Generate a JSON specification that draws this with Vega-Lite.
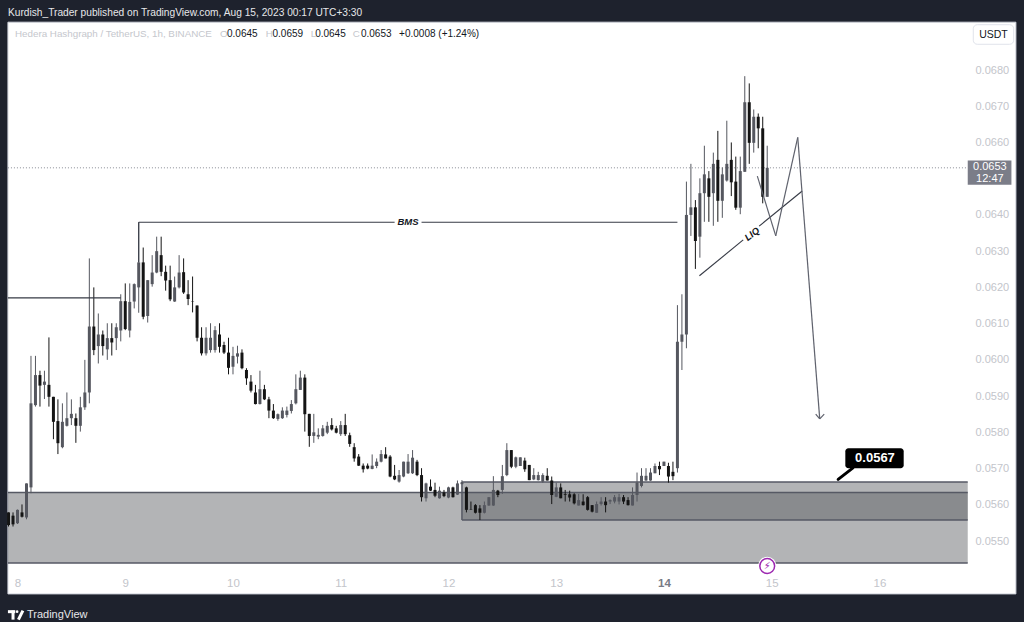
{
  "$schema": "https://vega.github.io/schema/vega-lite/v6.json",
  "width": 1024,
  "height": 622,
  "padding": 0,
  "autosize": "none",
  "background": "#1e222d",
  "view": {"stroke": null},
  "config": {"font": "Liberation Sans"},
  "encoding": {
    "x": {
      "field": "t",
      "type": "temporal",
      "scale": {"type": "utc", "nice": false, "padding": 0, "domain": [{"year": 2023, "month": 8, "date": 7, "hours": 20, "minutes": 6, "utc": true}, {"year": 2023, "month": 8, "date": 17, "hours": 8, "minutes": 12, "utc": true}]},
      "axis": {
        "orient": "bottom", "offset": -50, "zindex": 1, "title": null, "grid": false, "domain": false, "ticks": false,
        "format": "%-d", "labelPadding": 5, "labelFontSize": 11.5,
        "labelColor": {"condition": {"test": "utcdate(datum.value) == 14", "value": "#787b86"}, "value": "#c3c5cb"},
        "labelFontWeight": {"condition": {"test": "utcdate(datum.value) == 14", "value": "bold"}, "value": "normal"},
        "values": [
          {"year": 2023, "month": 8, "date": 8, "utc": true},
          {"year": 2023, "month": 8, "date": 9, "utc": true},
          {"year": 2023, "month": 8, "date": 10, "utc": true},
          {"year": 2023, "month": 8, "date": 11, "utc": true},
          {"year": 2023, "month": 8, "date": 12, "utc": true},
          {"year": 2023, "month": 8, "date": 13, "utc": true},
          {"year": 2023, "month": 8, "date": 14, "utc": true},
          {"year": 2023, "month": 8, "date": 15, "utc": true},
          {"year": 2023, "month": 8, "date": 16, "utc": true}
        ]
      }
    },
    "y": {
      "field": "p",
      "type": "quantitative",
      "scale": {"domain": [0.052765, 0.069932], "nice": false, "zero": false},
      "axis": {
        "orient": "right", "offset": -56, "zindex": 1, "title": null, "grid": false, "domain": false, "ticks": false,
        "format": ".4f", "labelPadding": 7, "labelFontSize": 11, "labelColor": "#c3c5cb", "labelAlign": "left",
        "values": [0.055, 0.056, 0.057, 0.058, 0.059, 0.06, 0.061, 0.062, 0.063, 0.064, 0.066, 0.067, 0.068]
      }
    }
  },
  "layer": [
    {
      "data": {"values": [{"t": "2023-08-07T21:52Z", "t2": "2023-08-17T06:24Z", "p": 0.06932, "p2": 0.05354}]},
      "mark": {"type": "rect", "fill": "#ffffff", "stroke": "#d1d4dc", "strokeWidth": 1},
      "encoding": {"x2": {"field": "t2"}, "y2": {"field": "p2"}}
    },
    {
      "data": {"values": [
        {"t": "2023-08-07T21:52Z", "t2": "2023-08-16T19:40Z", "p": 0.05634, "p2": 0.05439},
        {"t": "2023-08-12T03:00Z", "t2": "2023-08-16T19:40Z", "p": 0.05663, "p2": 0.05558}
      ]},
      "mark": {"type": "rect", "fill": "#56585e", "fillOpacity": 0.45},
      "encoding": {"x2": {"field": "t2"}, "y2": {"field": "p2"}}
    },
    {
      "data": {"values": [
        {"t": "2023-08-07T21:52Z", "t2": "2023-08-16T19:40Z", "p": 0.05634, "p2": 0.05634},
        {"t": "2023-08-07T21:52Z", "t2": "2023-08-16T19:40Z", "p": 0.05439, "p2": 0.05439},
        {"t": "2023-08-12T03:00Z", "t2": "2023-08-16T19:40Z", "p": 0.05663, "p2": 0.05663},
        {"t": "2023-08-12T03:00Z", "t2": "2023-08-16T19:40Z", "p": 0.05558, "p2": 0.05558},
        {"t": "2023-08-12T03:00Z", "t2": "2023-08-12T03:00Z", "p": 0.05663, "p2": 0.05558}
      ]},
      "mark": {"type": "rule", "color": "#565964", "strokeWidth": 1.5},
      "encoding": {"x2": {"field": "t2"}, "y2": {"field": "p2"}}
    },
    {
      "data": {"values": [{"t": "2023-08-07T21:52Z", "t2": "2023-08-16T19:40Z", "p": 0.0653, "p2": 0.0653}]},
      "mark": {"type": "rule", "color": "#8a8d96", "strokeWidth": 1, "strokeDash": [1, 2]},
      "encoding": {"x2": {"field": "t2"}, "y2": {"field": "p2"}}
    },
    {
      "data": {"name": "candles"},
      "mark": {"type": "rule", "strokeWidth": 1},
      "encoding": {
        "y": {
          "field": "low", "type": "quantitative", "scale": {"domain": [0.052765, 0.069932], "nice": false, "zero": false},
          "axis": {
            "orient": "right", "offset": -56, "zindex": 1, "title": null, "grid": false, "domain": false, "ticks": false,
            "format": ".4f", "labelPadding": 7, "labelFontSize": 11, "labelColor": "#c3c5cb", "labelAlign": "left",
            "values": [0.055, 0.056, 0.057, 0.058, 0.059, 0.06, 0.061, 0.062, 0.063, 0.064, 0.066, 0.067, 0.068]
          }
        },
        "y2": {"field": "high"},
        "color": {"condition": {"test": "datum.close >= datum.open", "value": "#55575f"}, "value": "#141414"}
      }
    },
    {
      "data": {"name": "candles"},
      "mark": {"type": "bar", "size": 3, "orient": "vertical"},
      "encoding": {
        "y": {
          "field": "open", "type": "quantitative", "scale": {"domain": [0.052765, 0.069932], "nice": false, "zero": false},
          "axis": {
            "orient": "right", "offset": -56, "zindex": 1, "title": null, "grid": false, "domain": false, "ticks": false,
            "format": ".4f", "labelPadding": 7, "labelFontSize": 11, "labelColor": "#c3c5cb", "labelAlign": "left",
            "values": [0.055, 0.056, 0.057, 0.058, 0.059, 0.06, 0.061, 0.062, 0.063, 0.064, 0.066, 0.067, 0.068]
          }
        },
        "y2": {"field": "close"},
        "color": {"condition": {"test": "datum.close >= datum.open", "value": "#55575f"}, "value": "#141414"}
      }
    },
    {
      "data": {"values": [
        {"t": "2023-08-07T21:52Z", "t2": "2023-08-08T23:00Z", "p": 0.06171, "p2": 0.06171},
        {"t": "2023-08-09T03:00Z", "t2": "2023-08-09T03:00Z", "p": 0.0638, "p2": 0.0627},
        {"t": "2023-08-09T03:00Z", "t2": "2023-08-11T12:00Z", "p": 0.0638, "p2": 0.0638},
        {"t": "2023-08-11T18:00Z", "t2": "2023-08-14T03:00Z", "p": 0.0638, "p2": 0.0638},
        {"t": "2023-08-14T07:54Z", "t2": "2023-08-14T17:39Z", "p": 0.06232, "p2": 0.06331},
        {"t": "2023-08-14T21:12Z", "t2": "2023-08-15T06:48Z", "p": 0.06369, "p2": 0.06466}
      ]},
      "mark": {"type": "rule", "color": "#363a45", "strokeWidth": 1.1},
      "encoding": {"x2": {"field": "t2"}, "y2": {"field": "p2"}}
    },
    {
      "data": {"values": [
        {"t": "2023-08-14T20:48Z", "t2": "2023-08-15T00:54Z", "p": 0.06507, "p2": 0.06342},
        {"t": "2023-08-15T00:54Z", "t2": "2023-08-15T05:48Z", "p": 0.06342, "p2": 0.06614},
        {"t": "2023-08-15T05:48Z", "t2": "2023-08-15T10:42Z", "p": 0.06614, "p2": 0.05837},
        {"t": "2023-08-15T09:48Z", "t2": "2023-08-15T10:42Z", "p": 0.0585, "p2": 0.05837},
        {"t": "2023-08-15T11:42Z", "t2": "2023-08-15T10:42Z", "p": 0.0585, "p2": 0.05837}
      ]},
      "mark": {"type": "rule", "color": "#5f626d", "strokeWidth": 1.2},
      "encoding": {"x2": {"field": "t2"}, "y2": {"field": "p2"}}
    },
    {
      "data": {"values": [{"t": "2023-08-11T15:00Z", "p": 0.0638, "label": "BMS"}]},
      "mark": {"type": "text", "fontSize": 9.5, "fontStyle": "italic", "fontWeight": "bold", "color": "#131722", "align": "center", "baseline": "middle"},
      "encoding": {"text": {"field": "label"}}
    },
    {
      "data": {"values": [{"t": "2023-08-14T19:39Z", "p": 0.06347, "label": "LIQ"}]},
      "mark": {"type": "text", "fontSize": 9.5, "fontStyle": "italic", "fontWeight": "bold", "color": "#131722", "align": "center", "baseline": "middle", "angle": 322},
      "encoding": {"text": {"field": "label"}}
    },
    {
      "data": {"values": [{"t": "2023-08-15T14:48Z", "t2": "2023-08-15T18:06Z", "p": 0.0567, "p2": 0.05702}]},
      "mark": {"type": "rule", "color": "#000000", "strokeWidth": 3, "strokeCap": "round"},
      "encoding": {"x2": {"field": "t2"}, "y2": {"field": "p2"}}
    },
    {
      "data": {"values": [{"t": "2023-08-15T16:24Z", "t2": "2023-08-16T05:24Z", "p": 0.05756, "p2": 0.05701}]},
      "mark": {"type": "rect", "fill": "#000000", "cornerRadius": 3},
      "encoding": {"x2": {"field": "t2"}, "y2": {"field": "p2"}}
    },
    {
      "data": {"values": [{"t": "2023-08-15T23:00Z", "p": 0.05728, "label": "0.0567"}]},
      "mark": {"type": "text", "fontSize": 13, "fontWeight": "bold", "color": "#ffffff", "align": "center", "baseline": "middle"},
      "encoding": {"text": {"field": "label"}}
    },
    {
      "data": {"values": [{"t": "2023-08-14T23:00Z", "p": 0.05431}]},
      "mark": {"type": "point", "shape": "circle", "filled": true, "size": 340, "color": "#ffffff", "opacity": 1},
      "encoding": {}
    },
    {
      "data": {"values": [{"t": "2023-08-14T23:00Z", "p": 0.05431}]},
      "mark": {"type": "point", "shape": "circle", "filled": false, "size": 220, "stroke": "#9c27b0", "strokeWidth": 1.5, "opacity": 1},
      "encoding": {}
    },
    {
      "data": {"values": [{"t": "2023-08-14T23:00Z", "p": 0.05431, "label": "⚡"}]},
      "mark": {"type": "text", "font": "DejaVu Sans", "fontSize": 10, "color": "#9c27b0", "align": "center", "baseline": "middle"},
      "encoding": {"text": {"field": "label"}}
    },
    {
      "data": {"values": [{"t": "2023-08-16T19:40Z", "t2": "2023-08-17T05:24Z", "p": 0.0655, "p2": 0.06483}]},
      "mark": {"type": "rect", "fill": "#7b7d88"},
      "encoding": {"x2": {"field": "t2"}, "y2": {"field": "p2"}}
    },
    {
      "data": {"values": [
        {"t": "2023-08-17T00:36Z", "p": 0.06531, "label": "0.0653"},
        {"t": "2023-08-17T00:36Z", "p": 0.06499, "label": "12:47"}
      ]},
      "mark": {"type": "text", "fontSize": 11, "color": "#ffffff", "align": "center", "baseline": "middle"},
      "encoding": {"text": {"field": "label"}}
    },
    {
      "data": {"values": [{"t": "2023-08-16T20:54Z", "t2": "2023-08-17T05:54Z", "p": 0.06925, "p2": 0.06871}]},
      "mark": {"type": "rect", "fill": "#ffffff", "stroke": "#e0e3eb", "strokeWidth": 1, "cornerRadius": 4},
      "encoding": {"x2": {"field": "t2"}, "y2": {"field": "p2"}}
    },
    {
      "data": {"values": [{"t": "2023-08-17T01:24Z", "p": 0.06897, "label": "USDT"}]},
      "mark": {"type": "text", "fontSize": 10.5, "color": "#131722", "align": "center", "baseline": "middle"},
      "encoding": {"text": {"field": "label"}}
    },
    {
      "data": {"values": [{"t": "2023-08-07T21:52Z", "p": 0.06956, "label": "Kurdish_Trader published on TradingView.com, Aug 15, 2023 00:17 UTC+3:30"}]},
      "mark": {"type": "text", "fontSize": 10.2, "color": "#e6e7ea", "align": "left", "baseline": "middle"},
      "encoding": {"text": {"field": "label"}}
    },
    {
      "data": {"values": [
        {"t": "2023-08-07T23:26Z", "p": 0.06899, "label": "Hedera Hashgraph / TetherUS, 1h, BINANCE"},
        {"t": "2023-08-09T21:06Z", "p": 0.06899, "label": "O"},
        {"t": "2023-08-10T07:18Z", "p": 0.06899, "label": "H"},
        {"t": "2023-08-10T17:18Z", "p": 0.06899, "label": "L"},
        {"t": "2023-08-11T02:42Z", "p": 0.06899, "label": "C"}
      ]},
      "mark": {"type": "text", "fontSize": 9.8, "color": "#c5c7cd", "align": "left", "baseline": "middle"},
      "encoding": {"text": {"field": "label"}}
    },
    {
      "data": {"values": [
        {"t": "2023-08-09T22:40Z", "p": 0.06899, "label": "0.0645"},
        {"t": "2023-08-10T08:48Z", "p": 0.06899, "label": "0.0659"},
        {"t": "2023-08-10T18:18Z", "p": 0.06899, "label": "0.0645"},
        {"t": "2023-08-11T04:30Z", "p": 0.06899, "label": "0.0653"},
        {"t": "2023-08-11T13:00Z", "p": 0.06899, "label": "+0.0008 (+1.24%)"}
      ]},
      "mark": {"type": "text", "fontSize": 10, "color": "#131722", "align": "left", "baseline": "middle"},
      "encoding": {"text": {"field": "label"}}
    },
    {
      "data": {"values": [{"t": "2023-08-08T02:06Z", "p": 0.05296, "label": "TradingView"}]},
      "mark": {"type": "text", "fontSize": 11, "color": "#e6e7ea", "align": "left", "baseline": "middle"},
      "encoding": {"text": {"field": "label"}}
    },
    {
      "data": {"values": [
        {"t": "2023-08-07T21:52Z", "t2": "2023-08-07T23:30Z", "p": 0.05305, "p2": 0.05305},
        {"t": "2023-08-07T23:00Z", "t2": "2023-08-07T23:00Z", "p": 0.05308, "p2": 0.05283},
        {"t": "2023-08-08T01:12Z", "t2": "2023-08-08T00:12Z", "p": 0.05308, "p2": 0.05283}
      ]},
      "mark": {"type": "rule", "color": "#ffffff", "strokeWidth": 3},
      "encoding": {"x2": {"field": "t2"}, "y2": {"field": "p2"}}
    },
    {
      "data": {"values": [{"t": "2023-08-07T23:55Z", "p": 0.05305}]},
      "mark": {"type": "point", "shape": "circle", "filled": true, "size": 7, "color": "#ffffff", "opacity": 1},
      "encoding": {}
    }
  ],
  "datasets": {
    "candles": [
      {"t":"2023-08-07T22:00Z","open":0.05579,"high":0.05579,"low":0.0554,"close":0.05544},
      {"t":"2023-08-07T23:00Z","open":0.0557,"high":0.05579,"low":0.0554,"close":0.05546},
      {"t":"2023-08-08T00:00Z","open":0.05549,"high":0.05587,"low":0.05547,"close":0.05586},
      {"t":"2023-08-08T01:00Z","open":0.05579,"high":0.05601,"low":0.05565,"close":0.05567},
      {"t":"2023-08-08T02:00Z","open":0.05565,"high":0.05659,"low":0.0556,"close":0.05659},
      {"t":"2023-08-08T03:00Z","open":0.05648,"high":0.06011,"low":0.05632,"close":0.0588},
      {"t":"2023-08-08T04:00Z","open":0.05875,"high":0.06011,"low":0.05871,"close":0.05958},
      {"t":"2023-08-08T05:00Z","open":0.05958,"high":0.0597,"low":0.05871,"close":0.05929},
      {"t":"2023-08-08T06:00Z","open":0.05931,"high":0.0597,"low":0.05892,"close":0.0594},
      {"t":"2023-08-08T07:00Z","open":0.05931,"high":0.06062,"low":0.05871,"close":0.05898},
      {"t":"2023-08-08T08:00Z","open":0.05898,"high":0.05898,"low":0.05781,"close":0.05829},
      {"t":"2023-08-08T09:00Z","open":0.05831,"high":0.05891,"low":0.0574,"close":0.0577},
      {"t":"2023-08-08T10:00Z","open":0.05759,"high":0.0588,"low":0.05756,"close":0.05829},
      {"t":"2023-08-08T11:00Z","open":0.05818,"high":0.0591,"low":0.05816,"close":0.05839},
      {"t":"2023-08-08T12:00Z","open":0.05839,"high":0.05891,"low":0.0582,"close":0.05851},
      {"t":"2023-08-08T13:00Z","open":0.05839,"high":0.05852,"low":0.05771,"close":0.05818},
      {"t":"2023-08-08T14:00Z","open":0.05818,"high":0.05898,"low":0.05802,"close":0.05869},
      {"t":"2023-08-08T15:00Z","open":0.05869,"high":0.06,"low":0.05862,"close":0.0591},
      {"t":"2023-08-08T16:00Z","open":0.0591,"high":0.0628,"low":0.0588,"close":0.06092},
      {"t":"2023-08-08T17:00Z","open":0.06092,"high":0.062,"low":0.06013,"close":0.06027},
      {"t":"2023-08-08T18:00Z","open":0.06038,"high":0.06128,"low":0.0599,"close":0.0607},
      {"t":"2023-08-08T19:00Z","open":0.0607,"high":0.06081,"low":0.06012,"close":0.06038},
      {"t":"2023-08-08T20:00Z","open":0.06029,"high":0.06101,"low":0.06,"close":0.0606},
      {"t":"2023-08-08T21:00Z","open":0.0606,"high":0.06101,"low":0.06012,"close":0.06048},
      {"t":"2023-08-08T22:00Z","open":0.0606,"high":0.06101,"low":0.06027,"close":0.0609},
      {"t":"2023-08-08T23:00Z","open":0.06081,"high":0.06181,"low":0.06051,"close":0.06162},
      {"t":"2023-08-09T00:00Z","open":0.06162,"high":0.06211,"low":0.06082,"close":0.06085},
      {"t":"2023-08-09T01:00Z","open":0.06081,"high":0.06211,"low":0.06062,"close":0.0616},
      {"t":"2023-08-09T02:00Z","open":0.06161,"high":0.06211,"low":0.06142,"close":0.06209},
      {"t":"2023-08-09T03:00Z","open":0.062,"high":0.0638,"low":0.0613,"close":0.06269},
      {"t":"2023-08-09T04:00Z","open":0.06269,"high":0.0631,"low":0.06112,"close":0.06119},
      {"t":"2023-08-09T05:00Z","open":0.06121,"high":0.0622,"low":0.06103,"close":0.0622},
      {"t":"2023-08-09T06:00Z","open":0.06209,"high":0.06289,"low":0.06202,"close":0.06241},
      {"t":"2023-08-09T07:00Z","open":0.06241,"high":0.0634,"low":0.06239,"close":0.063},
      {"t":"2023-08-09T08:00Z","open":0.06289,"high":0.0634,"low":0.06231,"close":0.06243},
      {"t":"2023-08-09T09:00Z","open":0.06243,"high":0.0626,"low":0.06191,"close":0.06219},
      {"t":"2023-08-09T10:00Z","open":0.0622,"high":0.0626,"low":0.06162,"close":0.06167},
      {"t":"2023-08-09T11:00Z","open":0.06161,"high":0.0623,"low":0.0616,"close":0.062},
      {"t":"2023-08-09T12:00Z","open":0.062,"high":0.06289,"low":0.06197,"close":0.06241},
      {"t":"2023-08-09T13:00Z","open":0.06242,"high":0.0628,"low":0.06182,"close":0.06186},
      {"t":"2023-08-09T14:00Z","open":0.06181,"high":0.0622,"low":0.06151,"close":0.06168},
      {"t":"2023-08-09T15:00Z","open":0.06162,"high":0.0623,"low":0.06131,"close":0.06161},
      {"t":"2023-08-09T16:00Z","open":0.0615,"high":0.0615,"low":0.06051,"close":0.06061},
      {"t":"2023-08-09T17:00Z","open":0.06061,"high":0.0609,"low":0.06012,"close":0.06018},
      {"t":"2023-08-09T18:00Z","open":0.06018,"high":0.0609,"low":0.06012,"close":0.06061},
      {"t":"2023-08-09T19:00Z","open":0.06027,"high":0.06101,"low":0.0602,"close":0.06061},
      {"t":"2023-08-09T20:00Z","open":0.06027,"high":0.06093,"low":0.0602,"close":0.06082},
      {"t":"2023-08-09T21:00Z","open":0.0607,"high":0.06101,"low":0.0602,"close":0.06036},
      {"t":"2023-08-09T22:00Z","open":0.06041,"high":0.0605,"low":0.06016,"close":0.0602},
      {"t":"2023-08-09T23:00Z","open":0.0602,"high":0.06061,"low":0.0596,"close":0.05978},
      {"t":"2023-08-10T00:00Z","open":0.05981,"high":0.06036,"low":0.0596,"close":0.06011},
      {"t":"2023-08-10T01:00Z","open":0.06009,"high":0.06039,"low":0.0599,"close":0.06018},
      {"t":"2023-08-10T02:00Z","open":0.0602,"high":0.06029,"low":0.05974,"close":0.05977},
      {"t":"2023-08-10T03:00Z","open":0.05972,"high":0.05977,"low":0.05931,"close":0.05949},
      {"t":"2023-08-10T04:00Z","open":0.0594,"high":0.05958,"low":0.0591,"close":0.05915},
      {"t":"2023-08-10T05:00Z","open":0.0591,"high":0.05931,"low":0.05877,"close":0.05878},
      {"t":"2023-08-10T06:00Z","open":0.05878,"high":0.0597,"low":0.05877,"close":0.05919},
      {"t":"2023-08-10T07:00Z","open":0.05919,"high":0.05931,"low":0.05889,"close":0.05891},
      {"t":"2023-08-10T08:00Z","open":0.05891,"high":0.05898,"low":0.05839,"close":0.0586},
      {"t":"2023-08-10T09:00Z","open":0.0586,"high":0.05878,"low":0.05837,"close":0.05839},
      {"t":"2023-08-10T10:00Z","open":0.05837,"high":0.05852,"low":0.05832,"close":0.0585},
      {"t":"2023-08-10T11:00Z","open":0.05839,"high":0.05869,"low":0.05837,"close":0.0586},
      {"t":"2023-08-10T12:00Z","open":0.05848,"high":0.05871,"low":0.05841,"close":0.0586},
      {"t":"2023-08-10T13:00Z","open":0.05859,"high":0.05889,"low":0.05852,"close":0.05878},
      {"t":"2023-08-10T14:00Z","open":0.0588,"high":0.0596,"low":0.05877,"close":0.05919},
      {"t":"2023-08-10T15:00Z","open":0.05917,"high":0.0597,"low":0.05917,"close":0.05951},
      {"t":"2023-08-10T16:00Z","open":0.05951,"high":0.0596,"low":0.05802,"close":0.0585},
      {"t":"2023-08-10T17:00Z","open":0.05851,"high":0.05851,"low":0.0576,"close":0.0579},
      {"t":"2023-08-10T18:00Z","open":0.0579,"high":0.05851,"low":0.05771,"close":0.058},
      {"t":"2023-08-10T19:00Z","open":0.05788,"high":0.05811,"low":0.05781,"close":0.05793},
      {"t":"2023-08-10T20:00Z","open":0.0579,"high":0.0582,"low":0.05788,"close":0.05811},
      {"t":"2023-08-10T21:00Z","open":0.05799,"high":0.05829,"low":0.05795,"close":0.05818},
      {"t":"2023-08-10T22:00Z","open":0.0582,"high":0.05839,"low":0.05805,"close":0.05808},
      {"t":"2023-08-10T23:00Z","open":0.05811,"high":0.05818,"low":0.05797,"close":0.05799},
      {"t":"2023-08-11T00:00Z","open":0.05795,"high":0.05831,"low":0.0579,"close":0.0582},
      {"t":"2023-08-11T01:00Z","open":0.0582,"high":0.05851,"low":0.0579,"close":0.05795},
      {"t":"2023-08-11T02:00Z","open":0.05792,"high":0.05799,"low":0.0576,"close":0.05768},
      {"t":"2023-08-11T03:00Z","open":0.05759,"high":0.0577,"low":0.05719,"close":0.05728},
      {"t":"2023-08-11T04:00Z","open":0.05733,"high":0.0574,"low":0.05707,"close":0.05708},
      {"t":"2023-08-11T05:00Z","open":0.05708,"high":0.05714,"low":0.05689,"close":0.05698},
      {"t":"2023-08-11T06:00Z","open":0.05708,"high":0.05714,"low":0.05698,"close":0.057},
      {"t":"2023-08-11T07:00Z","open":0.05699,"high":0.05739,"low":0.05698,"close":0.05708},
      {"t":"2023-08-11T08:00Z","open":0.05707,"high":0.05728,"low":0.05701,"close":0.05719},
      {"t":"2023-08-11T09:00Z","open":0.05719,"high":0.05751,"low":0.05717,"close":0.0574},
      {"t":"2023-08-11T10:00Z","open":0.05739,"high":0.05759,"low":0.05728,"close":0.05728},
      {"t":"2023-08-11T11:00Z","open":0.05733,"high":0.05737,"low":0.05676,"close":0.05678},
      {"t":"2023-08-11T12:00Z","open":0.0568,"high":0.0571,"low":0.05668,"close":0.0567},
      {"t":"2023-08-11T13:00Z","open":0.05664,"high":0.05696,"low":0.05661,"close":0.05682},
      {"t":"2023-08-11T14:00Z","open":0.05678,"high":0.05719,"low":0.05676,"close":0.05719},
      {"t":"2023-08-11T15:00Z","open":0.05687,"high":0.0574,"low":0.05685,"close":0.05719},
      {"t":"2023-08-11T16:00Z","open":0.05687,"high":0.05751,"low":0.05685,"close":0.0573},
      {"t":"2023-08-11T17:00Z","open":0.05719,"high":0.05724,"low":0.05679,"close":0.05682},
      {"t":"2023-08-11T18:00Z","open":0.05682,"high":0.05701,"low":0.05609,"close":0.05621},
      {"t":"2023-08-11T19:00Z","open":0.05618,"high":0.05661,"low":0.05609,"close":0.05659},
      {"t":"2023-08-11T20:00Z","open":0.0565,"high":0.0567,"low":0.05638,"close":0.05639},
      {"t":"2023-08-11T21:00Z","open":0.05641,"high":0.05661,"low":0.05621,"close":0.05625},
      {"t":"2023-08-11T22:00Z","open":0.05618,"high":0.0565,"low":0.05617,"close":0.05639},
      {"t":"2023-08-11T23:00Z","open":0.05634,"high":0.05641,"low":0.05621,"close":0.05624},
      {"t":"2023-08-12T00:00Z","open":0.0562,"high":0.0565,"low":0.05618,"close":0.05648},
      {"t":"2023-08-12T01:00Z","open":0.05648,"high":0.0565,"low":0.0562,"close":0.05621},
      {"t":"2023-08-12T02:00Z","open":0.05628,"high":0.05667,"low":0.05627,"close":0.05659},
      {"t":"2023-08-12T03:00Z","open":0.05657,"high":0.05668,"low":0.05657,"close":0.05662},
      {"t":"2023-08-12T04:00Z","open":0.05648,"high":0.0565,"low":0.05579,"close":0.05586},
      {"t":"2023-08-12T05:00Z","open":0.05588,"high":0.05609,"low":0.05586,"close":0.05587},
      {"t":"2023-08-12T06:00Z","open":0.05599,"high":0.05602,"low":0.05576,"close":0.05578},
      {"t":"2023-08-12T07:00Z","open":0.0559,"high":0.05599,"low":0.05558,"close":0.05578},
      {"t":"2023-08-12T08:00Z","open":0.05578,"high":0.05609,"low":0.05576,"close":0.05599},
      {"t":"2023-08-12T09:00Z","open":0.05598,"high":0.05621,"low":0.05597,"close":0.05621},
      {"t":"2023-08-12T10:00Z","open":0.05598,"high":0.05679,"low":0.05597,"close":0.05641},
      {"t":"2023-08-12T11:00Z","open":0.05639,"high":0.05641,"low":0.05621,"close":0.05627},
      {"t":"2023-08-12T12:00Z","open":0.05641,"high":0.0571,"low":0.0563,"close":0.05679},
      {"t":"2023-08-12T13:00Z","open":0.05682,"high":0.0577,"low":0.05679,"close":0.05751},
      {"t":"2023-08-12T14:00Z","open":0.05751,"high":0.05751,"low":0.05701,"close":0.05705},
      {"t":"2023-08-12T15:00Z","open":0.05705,"high":0.05733,"low":0.05701,"close":0.05731},
      {"t":"2023-08-12T16:00Z","open":0.05707,"high":0.05731,"low":0.05707,"close":0.05731},
      {"t":"2023-08-12T17:00Z","open":0.05722,"high":0.0573,"low":0.05691,"close":0.05698},
      {"t":"2023-08-12T18:00Z","open":0.0571,"high":0.0571,"low":0.05668,"close":0.05668},
      {"t":"2023-08-12T19:00Z","open":0.0567,"high":0.05701,"low":0.05668,"close":0.05682},
      {"t":"2023-08-12T20:00Z","open":0.05668,"high":0.05691,"low":0.05667,"close":0.05682},
      {"t":"2023-08-12T21:00Z","open":0.05664,"high":0.05687,"low":0.05661,"close":0.05682},
      {"t":"2023-08-12T22:00Z","open":0.0568,"high":0.05701,"low":0.05667,"close":0.05667},
      {"t":"2023-08-12T23:00Z","open":0.05667,"high":0.05678,"low":0.05602,"close":0.05627},
      {"t":"2023-08-13T00:00Z","open":0.05622,"high":0.05661,"low":0.05621,"close":0.05648},
      {"t":"2023-08-13T01:00Z","open":0.05648,"high":0.05659,"low":0.05618,"close":0.05618},
      {"t":"2023-08-13T02:00Z","open":0.05629,"high":0.05641,"low":0.05609,"close":0.05627},
      {"t":"2023-08-13T03:00Z","open":0.05629,"high":0.05639,"low":0.05609,"close":0.0562},
      {"t":"2023-08-13T04:00Z","open":0.05629,"high":0.05632,"low":0.05601,"close":0.05604},
      {"t":"2023-08-13T05:00Z","open":0.05598,"high":0.0563,"low":0.05598,"close":0.05613},
      {"t":"2023-08-13T06:00Z","open":0.05609,"high":0.05629,"low":0.05598,"close":0.05599},
      {"t":"2023-08-13T07:00Z","open":0.05621,"high":0.05624,"low":0.05584,"close":0.05586},
      {"t":"2023-08-13T08:00Z","open":0.05599,"high":0.05599,"low":0.05579,"close":0.05581},
      {"t":"2023-08-13T09:00Z","open":0.05578,"high":0.05609,"low":0.05578,"close":0.05602},
      {"t":"2023-08-13T10:00Z","open":0.05602,"high":0.05621,"low":0.05598,"close":0.05609},
      {"t":"2023-08-13T11:00Z","open":0.05609,"high":0.05621,"low":0.05579,"close":0.05599},
      {"t":"2023-08-13T12:00Z","open":0.05609,"high":0.05615,"low":0.05602,"close":0.05613},
      {"t":"2023-08-13T13:00Z","open":0.05609,"high":0.05627,"low":0.05604,"close":0.05621},
      {"t":"2023-08-13T14:00Z","open":0.05609,"high":0.0563,"low":0.05601,"close":0.05621},
      {"t":"2023-08-13T15:00Z","open":0.05621,"high":0.05627,"low":0.05602,"close":0.05609},
      {"t":"2023-08-13T16:00Z","open":0.05613,"high":0.05621,"low":0.05598,"close":0.05599},
      {"t":"2023-08-13T17:00Z","open":0.05598,"high":0.05648,"low":0.05598,"close":0.05627},
      {"t":"2023-08-13T18:00Z","open":0.05627,"high":0.05689,"low":0.05609,"close":0.05661},
      {"t":"2023-08-13T19:00Z","open":0.05652,"high":0.05701,"low":0.05648,"close":0.0568},
      {"t":"2023-08-13T20:00Z","open":0.05667,"high":0.05701,"low":0.05666,"close":0.0568},
      {"t":"2023-08-13T21:00Z","open":0.05667,"high":0.05701,"low":0.05666,"close":0.05689},
      {"t":"2023-08-13T22:00Z","open":0.05687,"high":0.05714,"low":0.05687,"close":0.05707},
      {"t":"2023-08-13T23:00Z","open":0.05707,"high":0.05719,"low":0.05682,"close":0.05698},
      {"t":"2023-08-14T00:00Z","open":0.05707,"high":0.05719,"low":0.05707,"close":0.05719},
      {"t":"2023-08-14T01:00Z","open":0.05707,"high":0.05716,"low":0.05661,"close":0.05678},
      {"t":"2023-08-14T02:00Z","open":0.05691,"high":0.05719,"low":0.05668,"close":0.05679},
      {"t":"2023-08-14T03:00Z","open":0.05701,"high":0.06151,"low":0.05689,"close":0.0605},
      {"t":"2023-08-14T04:00Z","open":0.0605,"high":0.06181,"low":0.05972,"close":0.0607},
      {"t":"2023-08-14T05:00Z","open":0.0607,"high":0.06492,"low":0.06032,"close":0.064},
      {"t":"2023-08-14T06:00Z","open":0.064,"high":0.06541,"low":0.06342,"close":0.06421},
      {"t":"2023-08-14T07:00Z","open":0.06421,"high":0.06441,"low":0.06251,"close":0.06328},
      {"t":"2023-08-14T08:00Z","open":0.0634,"high":0.06501,"low":0.06282,"close":0.0646},
      {"t":"2023-08-14T09:00Z","open":0.0646,"high":0.06591,"low":0.06381,"close":0.06512},
      {"t":"2023-08-14T10:00Z","open":0.06501,"high":0.06521,"low":0.06381,"close":0.0645},
      {"t":"2023-08-14T11:00Z","open":0.0646,"high":0.06572,"low":0.0637,"close":0.06541},
      {"t":"2023-08-14T12:00Z","open":0.06552,"high":0.06632,"low":0.06381,"close":0.06439},
      {"t":"2023-08-14T13:00Z","open":0.06439,"high":0.06531,"low":0.06392,"close":0.06512},
      {"t":"2023-08-14T14:00Z","open":0.06495,"high":0.0666,"low":0.06492,"close":0.06541},
      {"t":"2023-08-14T15:00Z","open":0.06552,"high":0.066,"low":0.06452,"close":0.0649},
      {"t":"2023-08-14T16:00Z","open":0.06492,"high":0.06561,"low":0.06414,"close":0.0642},
      {"t":"2023-08-14T17:00Z","open":0.0642,"high":0.06561,"low":0.06402,"close":0.06521},
      {"t":"2023-08-14T18:00Z","open":0.06519,"high":0.06783,"low":0.06519,"close":0.06711},
      {"t":"2023-08-14T19:00Z","open":0.06711,"high":0.06763,"low":0.06541,"close":0.06599},
      {"t":"2023-08-14T20:00Z","open":0.06599,"high":0.06691,"low":0.06572,"close":0.06671},
      {"t":"2023-08-14T21:00Z","open":0.06671,"high":0.0668,"low":0.06584,"close":0.06639},
      {"t":"2023-08-14T22:00Z","open":0.06639,"high":0.06671,"low":0.06432,"close":0.0645},
      {"t":"2023-08-14T23:00Z","open":0.0645,"high":0.06591,"low":0.0645,"close":0.0653}
    ]
  }
}
